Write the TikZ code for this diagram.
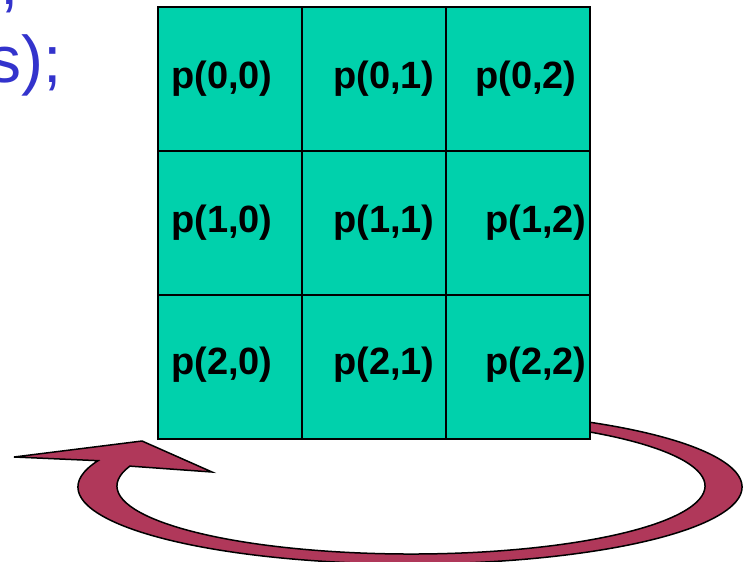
\documentclass[tikz,border=0pt]{standalone}
\usepackage{fontspec}
\setmainfont{Liberation Sans}
\usetikzlibrary{positioning}
\definecolor{cellgreen}{HTML}{00D1AC}
\definecolor{loopred}{HTML}{B0385A}
\definecolor{codeblue}{HTML}{3333CC}

\begin{document}
\begin{tikzpicture}[x=1pt, y=1pt, node distance=144pt,
    cell/.style={rectangle, draw, line width=2pt, fill=cellgreen, minimum size=144pt, inner sep=0pt, outer sep=0pt},
    proc/.style={anchor=base west, inner sep=0pt, font=\fontsize{38}{46}\selectfont\bfseries},
    code/.style={anchor=base east, inner sep=0pt, text=codeblue, font=\fontsize{66}{79}\selectfont},
    loop/.style={draw, line width=1.5pt, fill=loopred, line join=miter}]
    \useasboundingbox (0,0) rectangle (744,-562);

    % leftover code text
    \node[code] (comma) at (19,-5) {,};
    \node[code] (call) at (62,-82) {s);};

    % ring arrow (behind the grid)
    \draw[loop] (410,-487) ++(70:332 and 77)
        arc[start angle=70, end angle=-200, x radius=332, y radius=77]
        -- (14,-457) -- (142,-441) -- (212,-472)
        -- ([shift={(-197:294 and 68)}]411,-486)
        arc[start angle=-197, end angle=70, x radius=294, y radius=68]
        -- cycle;

    % process grid
    \node[cell] (c00) at (230,-79) {};
    \node[cell, right of=c00] (c01) {};
    \node[cell, right of=c01] (c02) {};
    \node[cell, below of=c00] (c10) {};
    \node[cell, right of=c10] (c11) {};
    \node[cell, right of=c11] (c12) {};
    \node[cell, below of=c10] (c20) {};
    \node[cell, right of=c20] (c21) {};
    \node[cell, right of=c21] (c22) {};

    \node[proc] (p00) at (171,-88) {p(0,0)};
    \node[proc] (p01) at (333,-88) {p(0,1)};
    \node[proc] (p02) at (475,-88) {p(0,2)};
    \node[proc] (p10) at (171,-232) {p(1,0)};
    \node[proc] (p11) at (333,-232) {p(1,1)};
    \node[proc] (p12) at (485,-232) {p(1,2)};
    \node[proc] (p20) at (171,-374) {p(2,0)};
    \node[proc] (p21) at (333,-374) {p(2,1)};
    \node[proc] (p22) at (485,-374) {p(2,2)};
\end{tikzpicture}
\end{document}
